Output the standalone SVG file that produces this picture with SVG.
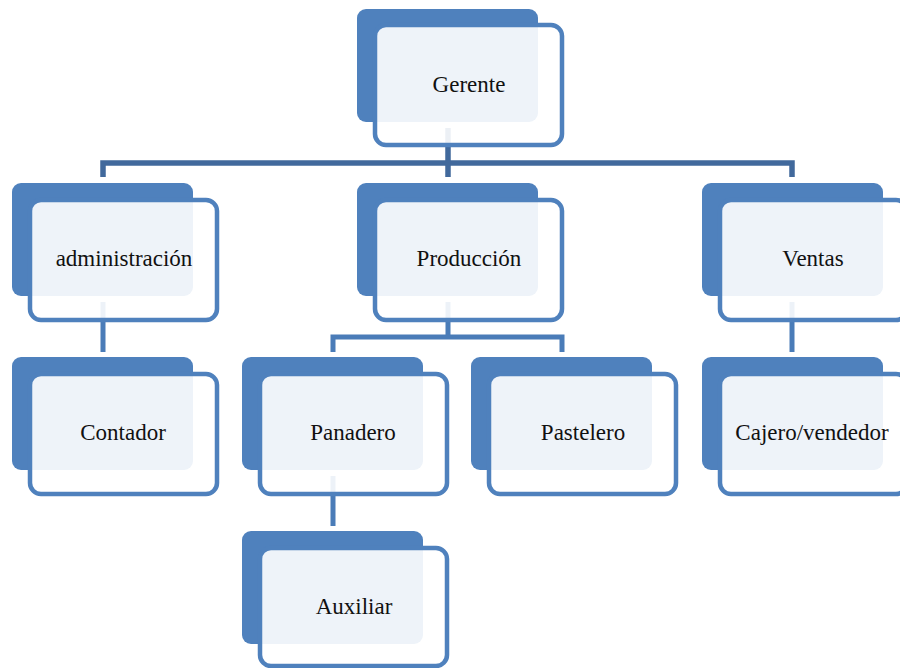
<svg xmlns="http://www.w3.org/2000/svg" width="900" height="668" viewBox="0 0 900 668">
<style>
.back{fill:#4F81BD}
.front{fill:#FFFFFF;fill-opacity:0.9;stroke:#4F81BD;stroke-width:4.5}
.lbl{font-family:"Liberation Serif","Times New Roman",serif;font-size:23px;fill:#111111;text-anchor:middle}
.c1{fill:none;stroke:#41699C;stroke-width:5.5}
.c2{fill:none;stroke:#4A7CB8;stroke-width:5}
</style>
<rect width="900" height="668" fill="#FFFFFF"/>
<g id="connectors">
<path class="c1" d="M448,128 V177 M103,177 V163 H792 V177"/>
<path class="c2" d="M103,302 V352 M448,302 V337 M333,352 V337 H562 V352 M792,302 V352 M333,476 V526"/>
</g>
<g id="gerente">
<rect class="back" x="357" y="9" width="181" height="113" rx="9"/>
<rect class="front" x="375" y="25" width="187" height="120" rx="11"/>
<text class="lbl" x="469" y="92">Gerente</text>
</g>
<g id="administracion">
<rect class="back" x="12" y="183" width="181" height="113" rx="9"/>
<rect class="front" x="30" y="200" width="187" height="120" rx="11"/>
<text class="lbl" x="124" y="266">administración</text>
</g>
<g id="produccion">
<rect class="back" x="357" y="183" width="181" height="113" rx="9"/>
<rect class="front" x="375" y="200" width="187" height="120" rx="11"/>
<text class="lbl" x="469" y="266">Producción</text>
</g>
<g id="ventas">
<rect class="back" x="702" y="183" width="181" height="113" rx="9"/>
<rect class="front" x="720" y="200" width="187" height="120" rx="11"/>
<text class="lbl" x="813" y="266">Ventas</text>
</g>
<g id="contador">
<rect class="back" x="12" y="357" width="181" height="113" rx="9"/>
<rect class="front" x="30" y="374" width="187" height="120" rx="11"/>
<text class="lbl" x="123" y="440">Contador</text>
</g>
<g id="panadero">
<rect class="back" x="242" y="357" width="181" height="113" rx="9"/>
<rect class="front" x="260" y="374" width="187" height="120" rx="11"/>
<text class="lbl" x="353" y="440">Panadero</text>
</g>
<g id="pastelero">
<rect class="back" x="471" y="357" width="181" height="113" rx="9"/>
<rect class="front" x="489" y="374" width="187" height="120" rx="11"/>
<text class="lbl" x="583" y="440">Pastelero</text>
</g>
<g id="cajero">
<rect class="back" x="702" y="357" width="181" height="113" rx="9"/>
<rect class="front" x="720" y="374" width="187" height="120" rx="11"/>
<text class="lbl" x="812" y="440">Cajero/vendedor</text>
</g>
<g id="auxiliar">
<rect class="back" x="242" y="531" width="181" height="113" rx="9"/>
<rect class="front" x="260" y="548" width="187" height="118" rx="11"/>
<text class="lbl" x="354" y="614">Auxiliar</text>
</g>
</svg>
